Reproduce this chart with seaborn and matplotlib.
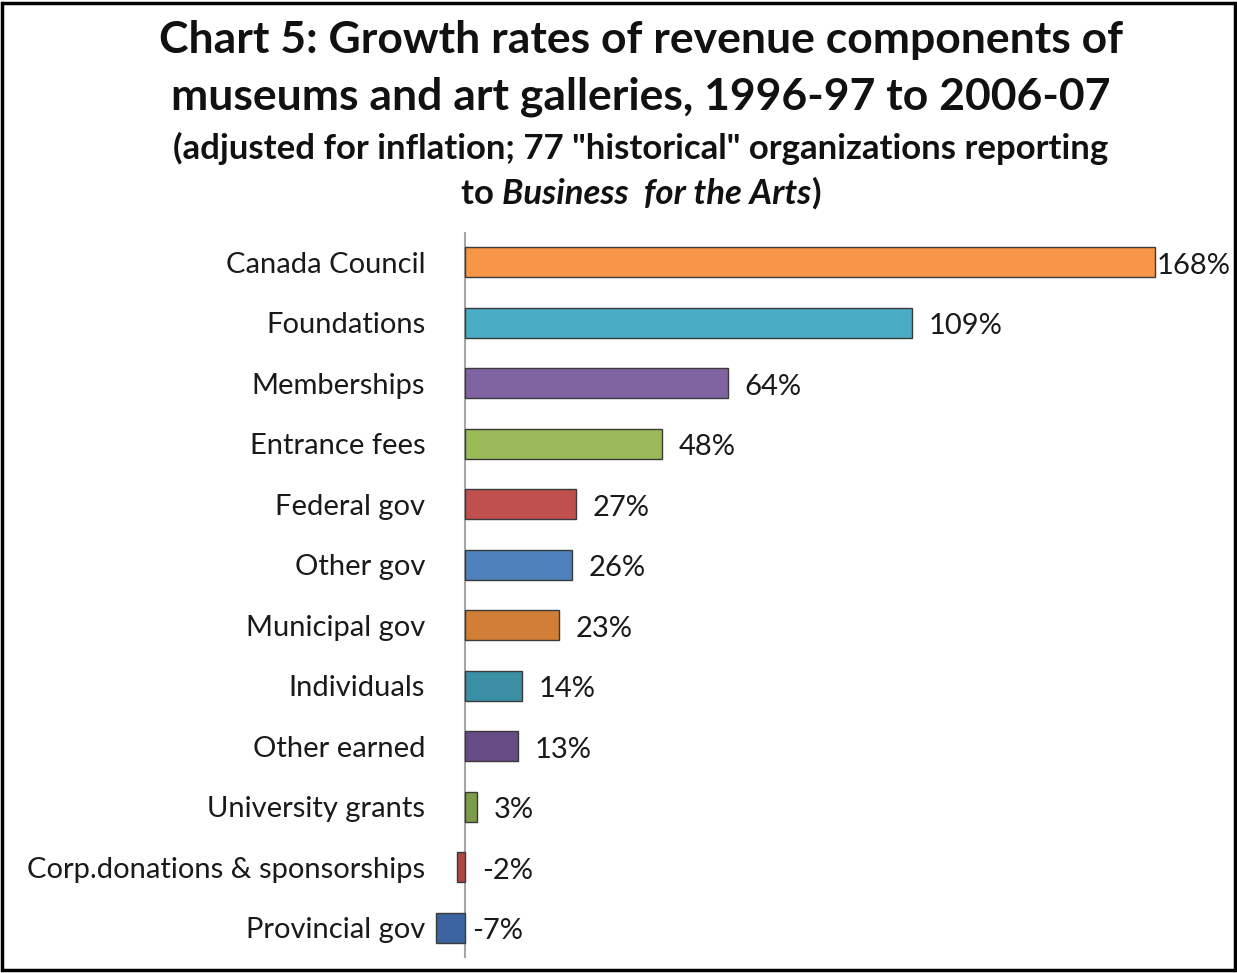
import pandas as pd
import matplotlib.pyplot as plt
import seaborn as sns
from matplotlib.patches import Rectangle

# data
categories = ["Canada Council", "Foundations", "Memberships", "Entrance fees",
              "Federal gov", "Other gov", "Municipal gov", "Individuals",
              "Other earned", "University grants", "Corp.donations & sponsorships",
              "Provincial gov"]
growth = [168, 109, 64, 48, 27, 26, 23, 14, 13, 3, -2, -7]
colors = ["#F79646", "#4BACC6", "#8064A2", "#9BBB59", "#C0504D", "#4F81BD",
          "#D17E36", "#3A8FA4", "#674B85", "#7D9C48", "#AE4644", "#3B64A0"]

df = pd.DataFrame({"Category": categories, "Growth": growth})

sns.set_theme(style="white")
plt.rcParams['font.family'] = ['Lato', 'DejaVu Sans']

fig = plt.figure(figsize=(12.37, 9.73), dpi=100)
ax = fig.add_axes([0.351, 0.0154, 0.589, 0.7462])

sns.barplot(data=df, x="Growth", y="Category", hue="Category", palette=colors,
            order=categories, hue_order=categories, orient="h", width=0.5,
            saturation=1, edgecolor="#3a3a3a", linewidth=1.0, legend=False, ax=ax)

ax.set_xlim(-7.5, 170)
ax.set_ylim(11.5, -0.5)
ax.set_xlabel("")
ax.set_ylabel("")
ax.set_xticks([])
for s in ax.spines.values():
    s.set_visible(False)
ax.axvline(0, color="#a6a6a6", lw=1.5, zorder=0)
ax.tick_params(axis="y", length=0, pad=6.5, labelsize=21, labelcolor="#1a1a1a")

# value labels (Excel-style placement)
label_offsets = {"Canada Council": 1.5, "Provincial gov": 5}
for i, (cat, v) in enumerate(zip(categories, growth)):
    off = label_offsets.get(cat, 12)
    ax.annotate(f"{v}%", xy=(max(v, 0), i), xytext=(off, -2.5), textcoords="offset points",
                va="center", ha="left", fontsize=21, color="#1a1a1a", annotation_clip=False)

# titles
fig.text(0.518, 0.959, "Chart 5: Growth rates of revenue components of", ha="center",
         va="center", fontsize=32, fontweight="bold", color="#111111")
fig.text(0.518, 0.901, "museums and art galleries, 1996-97 to 2006-07", ha="center",
         va="center", fontsize=32, fontweight="bold", color="#111111")
fig.text(0.518, 0.847, '(adjusted for inflation; 77 "historical" organizations reporting',
         ha="center", va="center", fontsize=25, fontweight="bold", color="#111111")

# last subtitle line with italic part
parts = [("to ", "normal"), ("Business  for the Arts", "italic"), (")", "normal")]
texts = []
for txt, style in parts:
    t = fig.text(0, 0.801, txt, ha="left", va="center", fontsize=25,
                 fontweight="bold", style=style, color="#111111")
    texts.append(t)
fig.canvas.draw()
r = fig.canvas.get_renderer()
widths = [t.get_window_extent(r).width / fig.bbox.width for t in texts]
x = 0.518 - sum(widths) / 2
for t, w in zip(texts, widths):
    t.set_x(x)
    x += w

fig.add_artist(Rectangle((0.002, 0.003), 0.996, 0.994, transform=fig.transFigure,
                         fill=False, edgecolor="black", lw=2.5))

plt.savefig("out.png", dpi=100)
